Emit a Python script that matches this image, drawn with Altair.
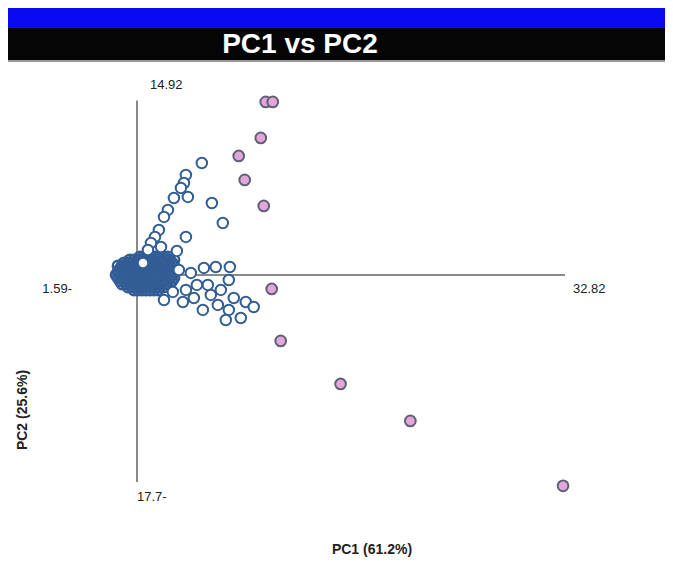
import altair as alt
import pandas as pd

TITLE = "PC1 vs PC2"
X_TITLE = "PC1 (61.2%)"
Y_TITLE = "PC2 (25.6%)"
PC1_RANGE = [0, 32.82]
PC2_RANGE = [-17.7, 14.92]
LABEL_TOP = "14.92"
LABEL_LEFT = "1.59-"
LABEL_RIGHT = "32.82"
LABEL_BOTTOM = "17.7-"

# open (white) circles along the two arms
ARM_PC1 = [4.97, 3.75, 3.60, 3.37, 2.83, 3.90, 5.74, 2.37, 2.07, 6.58,
           1.68, 1.38, 3.75, 1.07, 3.06, 1.84, 0.84, 5.13, 6.04, 7.12,
           4.13, 3.21, 7.04, 5.43, 6.43, 4.36, 3.52, 2.07, 7.42, 8.34,
           8.95, 6.20, 5.05, 7.04, 6.81, 7.96, 4.59, 3.75, 2.75, 5.66, 0.46]
ARM_PC2 = [9.57, 8.55, 7.86, 7.44, 6.58, 6.67, 6.15, 5.56, 4.96, 4.44,
           3.85, 3.25, 3.25, 2.74, 2.05, 2.39, 2.14, 0.60, 0.68, 0.68,
           0.17, 0.43, -0.43, -0.85, -1.28, -1.97, -2.31, -2.14, -1.97, -2.31,
           -2.74, -2.56, -2.99, -2.99, -3.85, -3.68, -0.85, -1.28, -1.45, -1.71, 1.03]

# heavily overlapping samples near the origin, read row by row
CLUSTER_PC2 = [1.54, 1.28, 1.03, 0.77, 0.51, 0.26, 0.0, -0.26, -0.51,
               -0.77, -1.03, -1.28]
CLUSTER_PC1 = [
    [0.23, 0.54, 0.84, 1.15, 1.45, 1.76, 2.07, 2.37],
    [-0.54, -0.23, 0.08, 0.38, 0.69, 0.99, 1.30, 1.61, 1.91, 2.22, 2.52, 2.83],
    [-0.99, -0.69, -0.38, -0.08, 0.23, 0.54, 0.84, 1.15, 1.45, 1.76, 2.07, 2.37, 2.68],
    [-1.45, -1.15, -0.84, -0.54, -0.23, 0.08, 0.38, 0.69, 0.99, 1.30, 1.61, 1.91, 2.22, 2.52, 2.83],
    [-1.30, -0.99, -0.69, -0.38, -0.08, 0.23, 0.54, 0.84, 1.15, 1.45, 1.76, 2.07, 2.37, 2.68],
    [-1.45, -1.15, -0.84, -0.54, -0.23, 0.08, 0.38, 0.69, 0.99, 1.30, 1.61, 1.91, 2.22, 2.52, 2.83],
    [-1.60, -1.30, -0.99, -0.69, -0.38, -0.08, 0.23, 0.54, 0.84, 1.15, 1.45, 1.76, 2.07, 2.37, 2.68],
    [-1.45, -1.15, -0.84, -0.54, -0.23, 0.08, 0.38, 0.69, 0.99, 1.30, 1.61, 1.91, 2.22, 2.52, 2.83],
    [-1.30, -0.99, -0.69, -0.38, -0.08, 0.23, 0.54, 0.84, 1.15, 1.45, 1.76, 2.07, 2.37, 2.68],
    [-1.15, -0.84, -0.54, -0.23, 0.08, 0.38, 0.69, 0.99, 1.30, 1.61, 1.91, 2.22, 2.52],
    [-0.69, -0.38, -0.08, 0.23, 0.54, 0.84, 1.15, 1.45, 1.76, 2.07],
    [-0.23, 0.08, 0.38, 0.69, 0.99, 1.30, 1.61],
]

# highlighted (pink) samples
PINK_PC1 = [9.87, 10.41, 9.49, 7.80, 8.26, 9.72, 10.33, 11.02, 15.61, 20.96, 32.67]
PINK_PC2 = [14.79, 14.79, 11.71, 10.17, 8.12, 5.90, -1.20, -5.64, -9.32, -12.48, -18.03]

W, H = 657, 550
FONT = "Liberation Sans"
BLUE = "#325d95"

arm_df = pd.DataFrame({"PC1": ARM_PC1, "PC2": ARM_PC2})
cluster_rows = []
for pc2, row in zip(CLUSTER_PC2, CLUSTER_PC1):
    for pc1 in row:
        cluster_rows.append((pc1, pc2))
cluster_df = pd.DataFrame(cluster_rows, columns=["PC1", "PC2"])
pink_df = pd.DataFrame({"PC1": PINK_PC1, "PC2": PINK_PC2})

xs = alt.Scale(domain=PC1_RANGE, range=[129, 557], nice=False, zero=False)
ys = alt.Scale(domain=PC2_RANGE, range=[474, 92.4], nice=False, zero=False)

one = pd.DataFrame({"k": [0]})

blue_bar = alt.Chart(one).mark_rect(color="#0a0af2").encode(
    x=alt.value(0), x2=alt.value(W), y=alt.value(0), y2=alt.value(20))
black_bar = alt.Chart(one).mark_rect(color="#050505").encode(
    x=alt.value(0), x2=alt.value(W), y=alt.value(20), y2=alt.value(52))
grey_rule = alt.Chart(one).mark_rule(color="#9a9a9a", strokeWidth=2).encode(
    x=alt.value(0), x2=alt.value(W), y=alt.value(53))
title = alt.Chart(one).mark_text(
    text=TITLE, color="white", font=FONT, fontSize=28, fontWeight="bold",
    align="center", baseline="middle").encode(x=alt.value(292), y=alt.value(37))

hline_df = pd.DataFrame({"a": [PC1_RANGE[0]], "b": [PC1_RANGE[1]], "y": [0]})
vline_df = pd.DataFrame({"a": [PC2_RANGE[0]], "b": [PC2_RANGE[1]], "x": [0]})
hline = alt.Chart(hline_df).mark_rule(color="#8a8a8a", strokeWidth=2).encode(
    x=alt.X("a:Q", scale=xs, axis=None), x2="b:Q",
    y=alt.Y("y:Q", scale=ys, axis=None))
vline = alt.Chart(vline_df).mark_rule(color="#8a8a8a", strokeWidth=2).encode(
    x=alt.X("x:Q", scale=xs, axis=None),
    y=alt.Y("a:Q", scale=ys, axis=None), y2="b:Q")

enc = dict(x=alt.X("PC1:Q", scale=xs, axis=None),
           y=alt.Y("PC2:Q", scale=ys, axis=None))

cluster_pts = alt.Chart(cluster_df).mark_circle(
    size=110, fill="white", fillOpacity=0, stroke=BLUE, strokeWidth=2.5,
    opacity=1, strokeOpacity=1).encode(**enc)
arm_pts = alt.Chart(arm_df).mark_circle(
    size=110, fill="white", stroke=BLUE, strokeWidth=2,
    opacity=1, fillOpacity=1, strokeOpacity=1).encode(**enc)
pink_pts = alt.Chart(pink_df).mark_circle(
    size=115, fill="#e3a6db", stroke="#5f6175", strokeWidth=2,
    opacity=1, fillOpacity=1, strokeOpacity=1).encode(**enc)


def label(text, x, y, align="left", size=13, weight="normal", angle=0):
    kw = dict(text=text, color="#222222", font=FONT, fontSize=size,
              fontWeight=weight, align=align, baseline="middle")
    if angle:
        kw["angle"] = angle
    return alt.Chart(one).mark_text(**kw).encode(x=alt.value(x), y=alt.value(y))


labels = [
    label(LABEL_TOP, 142, 77),
    label(LABEL_LEFT, 64, 281, align="right"),
    label(LABEL_RIGHT, 565, 281),
    label(LABEL_BOTTOM, 129, 489),
    label(X_TITLE, 364, 542, align="center", size=14, weight="bold"),
    label(Y_TITLE, 15, 402, align="center", size=14, weight="bold", angle=270),
]

chart = alt.layer(
    blue_bar, black_bar, grey_rule, title, hline, vline,
    cluster_pts, arm_pts, pink_pts, *labels
).properties(
    width=W, height=H, padding=0,
    autosize=alt.AutoSizeParams(type="none"),
).configure_view(stroke=None)

chart.save("out.html", embed_options={"renderer": "svg", "actions": False})
